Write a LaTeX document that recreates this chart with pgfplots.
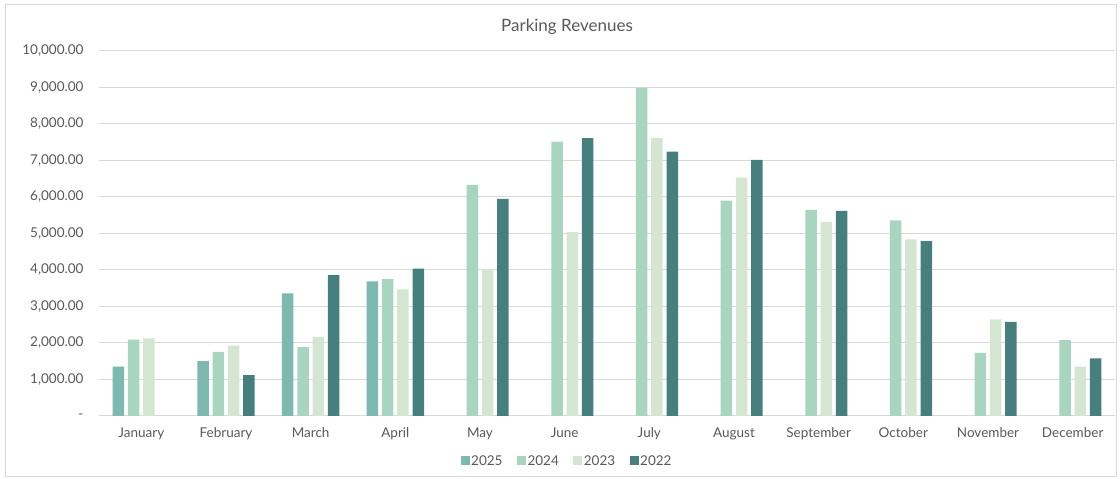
\documentclass[border=0pt]{standalone}
\usepackage{pgfplots}
\pgfplotsset{compat=1.18}
\usepackage{fontspec}
\setmainfont{Lato}
\definecolor{cA}{HTML}{7DB9B0}
\definecolor{cB}{HTML}{A9D4C0}
\definecolor{cC}{HTML}{D4E6D2}
\definecolor{cD}{HTML}{477F7E}
\definecolor{txt}{HTML}{595959}
\definecolor{gridc}{HTML}{D9D9D9}
\begin{document}
\begin{tikzpicture}[x=1pt,y=1pt]
\useasboundingbox (0,0) rectangle (1120,479);
\draw[gridc, line width=1pt] (5,2) rectangle (1116,474);
\node[txt, font=\fontsize{17}{19}\selectfont] at (567,452) {Parking Revenues};
\begin{axis}[
  at={(99pt,63pt)}, anchor=south west,
  scale only axis, width=1016pt, height=365pt,
  xmin=-0.5, xmax=11.5, ymin=0, ymax=10000,
  scaled y ticks=false,
  xtick={0,...,11},
  xticklabels={January,February,March,April,May,June,July,August,September,October,November,December},
  ytick={0,1000,...,10000},
  yticklabels={{-},{1,000.00},{2,000.00},{3,000.00},{4,000.00},{5,000.00},{6,000.00},{7,000.00},{8,000.00},{9,000.00},{10,000.00}},
  axis y line*=left, axis x line*=bottom,
  y axis line style={draw=none},
  x axis line style={gridc, line width=1pt},
  major tick length=0pt,
  ymajorgrids, grid style={gridc, line width=1pt},
  tick label style={txt, font=\fontsize{13.5}{15}\selectfont},
  yticklabel style={xshift=-12pt},
  xticklabel style={yshift=-8pt},
  ybar=3.8pt, bar width=11.5pt,
  legend style={at={(0.4605,-0.123)}, anchor=center, draw=none, legend columns=-1,
    font=\fontsize{13.5}{15}\selectfont, text=txt,
    /tikz/every odd column/.append style={column sep=0pt},
    /tikz/every even column/.append style={column sep=13pt},
    nodes={inner sep=1.5pt}},
  legend image code/.code={\fill[#1] (0pt,-4.5pt) rectangle (9pt,4.5pt);},
]
\addplot[fill=cA, draw=none] coordinates {(0,1350)(1,1500)(2,3360)(3,3690)};
\addplot[fill=cB, draw=none] coordinates {(0,2090)(1,1760)(2,1890)(3,3750)(4,6330)(5,7520)(6,8990)(7,5900)(8,5650)(9,5360)(10,1730)(11,2080)};
\addplot[fill=cC, draw=none] coordinates {(0,2130)(1,1930)(2,2170)(3,3470)(4,4020)(5,5040)(6,7620)(7,6530)(8,5320)(9,4840)(10,2650)(11,1350)};
\addplot[fill=cD, draw=none] coordinates {(1,1120)(2,3860)(3,4040)(4,5950)(5,7610)(6,7240)(7,7020)(8,5620)(9,4790)(10,2580)(11,1580)};
\legend{2025,2024,2023,2022}
\end{axis}
\end{tikzpicture}
\end{document}
